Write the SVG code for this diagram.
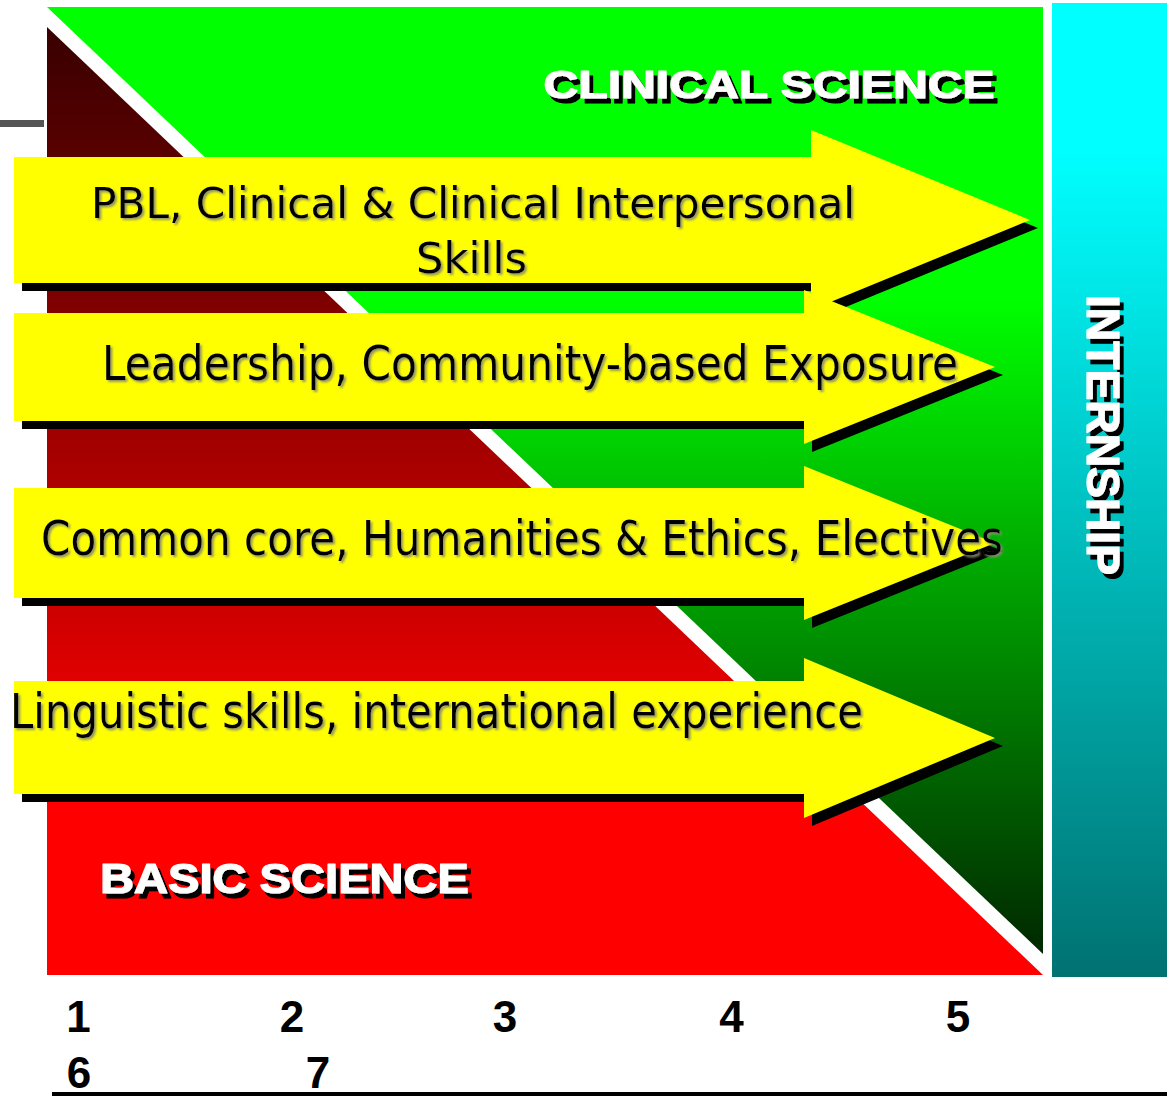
<svg xmlns="http://www.w3.org/2000/svg" width="1167" height="1096" viewBox="0 0 1167 1096">
<defs>
<linearGradient id="gGreen" gradientUnits="userSpaceOnUse" x1="0" y1="7" x2="0" y2="954">
<stop offset="0" stop-color="#00FF00"/>
<stop offset="0.31" stop-color="#00FF00"/>
<stop offset="1" stop-color="#002800"/>
</linearGradient>
<linearGradient id="gRed" gradientUnits="userSpaceOnUse" x1="0" y1="27" x2="0" y2="975">
<stop offset="0" stop-color="#380000"/>
<stop offset="0.815" stop-color="#FF0000"/>
<stop offset="1" stop-color="#FF0000"/>
</linearGradient>
<linearGradient id="gCyan" gradientUnits="userSpaceOnUse" x1="0" y1="3" x2="0" y2="977">
<stop offset="0" stop-color="#00FFFF"/>
<stop offset="0.15" stop-color="#00FFFF"/>
<stop offset="1" stop-color="#007272"/>
</linearGradient>
<filter id="soft" x="-5%" y="-20%" width="110%" height="140%">
<feDropShadow dx="2" dy="2" stdDeviation="1" flood-color="#8a8a70" flood-opacity="0.9"/>
</filter>
<filter id="hard" x="-5%" y="-10%" width="115%" height="130%">
<feDropShadow dx="4" dy="5" stdDeviation="0" flood-color="#000000" flood-opacity="1"/>
</filter>
</defs>
<style>
.arrow{fill:#FFFF00}
.shadow{fill:#000000}
.atext{font-family:"DejaVu Sans","Liberation Sans",sans-serif;fill:#000000;filter:url(#soft)}
.big{font-family:"Liberation Sans",Arial,sans-serif;font-weight:bold;fill:#FFFFFF;stroke:#FFFFFF;stroke-width:1.2px;stroke-linejoin:round}
.num{font-family:"Liberation Sans",Arial,sans-serif;font-weight:bold;font-size:44px;fill:#000000;text-anchor:middle}
</style>
<rect width="1167" height="1096" fill="#FFFFFF"/>

<g id="background">
<polygon id="clinical-area" points="47,7 1043,7 1043,954" fill="url(#gGreen)"/>
<polygon id="basic-area" points="47,27 1043,975 47,975" fill="url(#gRed)"/>
<rect id="internship-bar" x="1052" y="3" width="115" height="974" fill="url(#gCyan)"/>
<rect id="left-tick" x="0" y="120" width="44" height="7" fill="#555555"/>
</g>

<g id="label-clinical" filter="url(#hard)">
<text class="big" x="543.5" y="98" font-size="39" textLength="451" lengthAdjust="spacingAndGlyphs">CLINICAL SCIENCE</text>
</g>

<g id="label-basic" filter="url(#hard)">
<text class="big" x="100" y="893" font-size="42" textLength="369" lengthAdjust="spacingAndGlyphs">BASIC SCIENCE</text>
</g>

<g id="label-internship" filter="url(#hard)">
<text class="big" transform="translate(1087,295) rotate(90)" font-size="46" textLength="280" lengthAdjust="spacingAndGlyphs">INTERNSHIP</text>
</g>

<g id="connectors">
<g id="arrow-1">
<polygon class="shadow" points="22,165 819,165 819,138 1038,228 819,318 819,291 22,291"/>
<polygon class="arrow" points="14,157 811,157 811,130 1030,220 811,310 811,283 14,283"/>
<text class="atext" x="91" y="218" font-size="43" textLength="764" lengthAdjust="spacingAndGlyphs">PBL, Clinical &amp; Clinical Interpersonal</text>
<text class="atext" x="416" y="273" font-size="43" textLength="111" lengthAdjust="spacingAndGlyphs">Skills</text>
</g>
<g id="arrow-2">
<polygon class="shadow" points="22,321 812,321 812,298 1003,375 812,452 812,429 22,429"/>
<polygon class="arrow" points="14,313 804,313 804,290 995,367 804,444 804,421 14,421"/>
<text class="atext" x="102" y="380" font-size="48" textLength="856" lengthAdjust="spacingAndGlyphs">Leadership, Community-based Exposure</text>
</g>
<g id="arrow-3">
<polygon class="shadow" points="22,496 812,496 812,474 1003,551 812,628 812,606 22,606"/>
<polygon class="arrow" points="14,488 804,488 804,466 995,543 804,620 804,598 14,598"/>
<text class="atext" x="41" y="555" font-size="48" textLength="962" lengthAdjust="spacingAndGlyphs">Common core, Humanities &amp; Ethics, Electives</text>
</g>
<g id="arrow-4">
<polygon class="shadow" points="22,689 812,689 812,666 1003,746 812,826 812,802 22,802"/>
<polygon class="arrow" points="14,681 804,681 804,658 995,738 804,818 804,794 14,794"/>
<text class="atext" x="10" y="728" font-size="48" textLength="853" lengthAdjust="spacingAndGlyphs">Linguistic skills, international experience</text>
</g>
</g>

<g id="axis">
<text class="num" x="78.5" y="1032">1</text>
<text class="num" x="292" y="1032">2</text>
<text class="num" x="505" y="1032">3</text>
<text class="num" x="731.5" y="1032">4</text>
<text class="num" x="958" y="1032">5</text>
<text class="num" x="79" y="1088">6</text>
<text class="num" x="318" y="1088">7</text>
<rect id="axis-line" x="52" y="1092" width="1115" height="4" fill="#000000"/>
</g>
</svg>
